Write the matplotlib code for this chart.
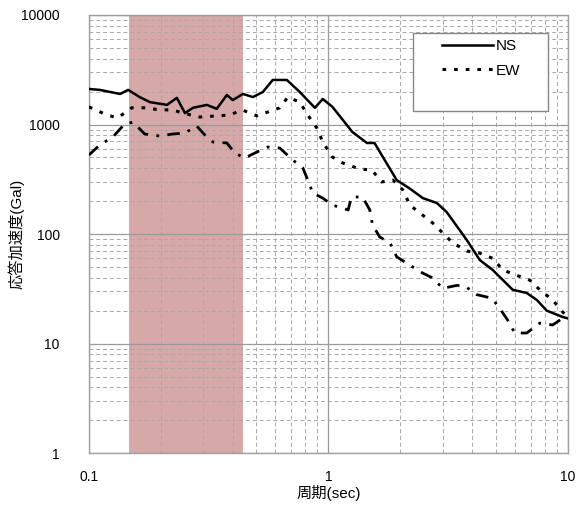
import matplotlib
matplotlib.use('Agg')
import matplotlib.pyplot as plt
import matplotlib.ticker as mtick
from matplotlib.patches import Rectangle

plt.rcParams['font.family'] = ['Liberation Sans', 'Noto Sans CJK JP', 'DejaVu Sans']
plt.rcParams['hatch.color'] = '#b98888'
plt.rcParams['hatch.linewidth'] = 1.2

# 周期 (sec) と応答加速度 (Gal)
ns_t = [0.1, 0.111, 0.135, 0.146, 0.163, 0.18, 0.212, 0.233, 0.252, 0.272, 0.311, 0.342,
        0.377, 0.399, 0.44, 0.484, 0.533, 0.586, 0.671, 0.76, 0.879, 0.948, 1.04, 1.15,
        1.26, 1.45, 1.56, 1.69, 1.93, 2.19, 2.48, 2.84, 3.12, 3.79, 4.29, 4.86, 5.89,
        6.74, 7.43, 8.17, 9.53, 10.0]
ns_a = [2110, 2070, 1900, 2070, 1780, 1600, 1510, 1750, 1270, 1420, 1510, 1390,
        1860, 1670, 1900, 1780, 1980, 2550, 2550, 1980, 1420, 1710, 1450, 1100,
        855, 678, 678, 505, 311, 260, 213, 192, 159, 88, 58, 47, 31,
        29, 25, 20, 17.5, 17]

ew_t = [0.1, 0.119, 0.132, 0.151, 0.171, 0.198, 0.224, 0.247, 0.29, 0.388, 0.436, 0.503,
        0.559, 0.627, 0.678, 0.76, 0.821, 0.895, 0.948, 1.04, 1.15, 1.35, 1.52, 1.67,
        1.86, 2.05, 2.19, 2.41, 2.73, 3.01, 3.31, 3.79, 4.29, 4.86, 5.36, 6.12, 6.94,
        7.64, 8.65, 9.53, 10.0]
ew_a = [1450, 1220, 1150, 1420, 1420, 1360, 1360, 1270, 1170, 1220, 1360, 1200,
        1300, 1420, 1780, 1600, 1220, 930, 692, 505, 445, 393, 384, 299,
        311, 252, 184, 156, 126, 102, 83, 70, 67, 60, 47, 42, 38,
        31, 25, 19.4, 17.5]

ud_t = [0.1, 0.111, 0.126, 0.141, 0.153, 0.171, 0.198, 0.224, 0.252, 0.282, 0.305, 0.33,
        0.377, 0.407, 0.448, 0.503, 0.559, 0.627, 0.711, 0.783, 0.821, 0.861, 0.948, 1.04,
        1.21, 1.25, 1.39, 1.49, 1.53, 1.64, 1.81, 1.93, 2.19, 2.48, 2.71, 3.01, 3.44,
        3.72, 4.17, 4.82, 5.2, 5.61, 6.01, 6.74, 7.64, 8.65, 9.53, 10.0]
ud_a = [526, 650, 769, 1010, 1050, 819, 785, 819, 836, 970, 802, 692,
        678, 549, 494, 561, 623, 610, 474, 401, 311, 237, 213, 184,
        166, 218, 218, 166, 121, 94, 83, 62, 52, 44, 40, 32, 34,
        33.5, 28, 26, 21, 16.4, 12.5, 12.5, 15.4, 14.8, 17.1, 17.5]

# 網掛けの周期帯
band = (0.147, 0.44)

fig, ax = plt.subplots(figsize=(5.77, 5.15), dpi=100)
fig.subplots_adjust(left=0.154, right=0.984, top=0.971, bottom=0.12)

ax.axvspan(band[0], band[1], facecolor='#d6a8a8', edgecolor='none', hatch='+', zorder=0.3)

ax.plot(ns_t, ns_a, color='black', lw=1.8, label='NS', zorder=3)
ax.plot(ew_t, ew_a, color='black', lw=2.2, dashes=(1.2, 2.6), label='EW', zorder=3)
ax.plot(ud_t, ud_a, color='black', lw=2.0, dashes=(4.5, 3.0, 1.0, 3.0), zorder=3)

ax.set_xscale('log')
ax.set_yscale('log')
ax.set_xlim(0.1, 10)
ax.set_ylim(1, 10000)

ax.xaxis.set_major_locator(mtick.FixedLocator([0.1, 1, 10]))
ax.xaxis.set_major_formatter(mtick.FixedFormatter(['0.1', '1', '10']))
ax.yaxis.set_major_locator(mtick.FixedLocator([1, 10, 100, 1000, 10000]))
ax.yaxis.set_major_formatter(mtick.FixedFormatter(['1', '10', '100', '1000', '10000']))
ax.xaxis.set_minor_locator(mtick.LogLocator(base=10, subs=range(2, 10)))
ax.yaxis.set_minor_locator(mtick.LogLocator(base=10, subs=range(2, 10)))
ax.xaxis.set_minor_formatter(mtick.NullFormatter())
ax.yaxis.set_minor_formatter(mtick.NullFormatter())
ax.tick_params(which='both', length=0, labelsize=10)
ax.tick_params(axis='x', pad=12)
ax.tick_params(axis='y', pad=21)

ax.set_axisbelow(True)
ax.grid(True, which='major', color='#9a9a9a', lw=0.9, ls='-')
ax.grid(True, which='minor', color='#a8a8a8', lw=0.7, ls=(0, (4, 3)))
for s in ax.spines.values():
    s.set_color('#a0a0a0')
    s.set_linewidth(1.0)

ax.set_xlabel('周期(sec)', fontsize=11)
ax.set_ylabel('応答加速度(Gal)', fontsize=11)
ax.xaxis.set_label_coords(0.5, -0.073)
ax.yaxis.set_label_coords(-0.134, 0.5)

# 凡例の枠
ax.add_patch(Rectangle((0.676, 0.781), 0.282, 0.178, transform=ax.transAxes,
                       facecolor='white', edgecolor='#888888', lw=1.0, zorder=4))
leg = ax.legend(loc='upper left', bbox_to_anchor=(0.737, 0.945), frameon=False,
                handlelength=3.35, fontsize=11, borderpad=0, labelspacing=0.7,
                handletextpad=0.15, borderaxespad=0)
leg.set_zorder(5)

fig.savefig('out.png', dpi=100)
